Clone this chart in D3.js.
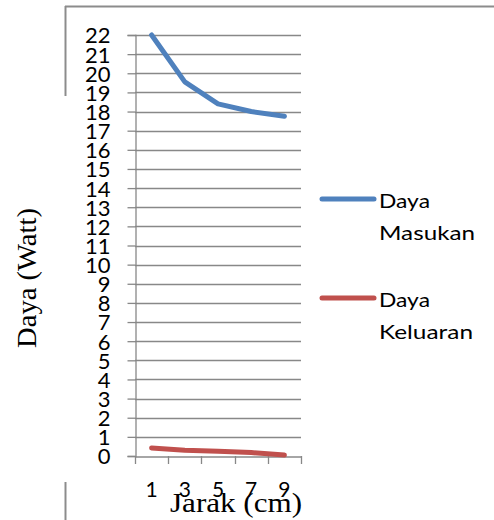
<!DOCTYPE html>
<html>
<head>
<meta charset="utf-8">
<script src="https://cdn.jsdelivr.net/npm/d3@7"></script>
<style>
  html, body { margin: 0; padding: 0; background: #fff; }
  svg { display: block; }
</style>
</head>
<body>
<svg id="chart" width="494" height="520"></svg>
<script>
const categories = ["1", "3", "5", "7", "9"];
const dayaMasukan = [22.0, 19.55, 18.4, 18.0, 17.75];
const dayaKeluaran = [0.42, 0.3, 0.25, 0.18, 0.05];
const yTicks = d3.range(0, 23);
const seriesNames = [["Daya", "Masukan"], ["Daya", "Keluaran"]];
const seriesColors = ["#4F81BD", "#C0504D"];

(function () {
const svg = d3.select("#chart");
const pLeft = 135, pRight = 301, pTop = 35, pBottom = 456;

// outer frame fragments
const frameColor = "#8c8c8c";
svg.append("line").attr("x1", 65).attr("x2", 494).attr("y1", 6.5).attr("y2", 6.5)
  .attr("stroke", frameColor).attr("stroke-width", 2);
svg.append("line").attr("x1", 65.5).attr("x2", 65.5).attr("y1", 6).attr("y2", 96)
  .attr("stroke", frameColor).attr("stroke-width", 2);
svg.append("line").attr("x1", 65.5).attr("x2", 65.5).attr("y1", 482).attr("y2", 520)
  .attr("stroke", frameColor).attr("stroke-width", 2);

const x = d3.scaleBand().domain(categories).range([pLeft, pRight]);
const y = d3.scaleLinear().domain([0, 22]).range([pBottom, pTop]);

// gridlines
svg.append("g").selectAll("line").data(yTicks.filter(d => d > 0)).join("line")
  .attr("x1", pLeft).attr("x2", pRight)
  .attr("y1", d => Math.round(y(d)) + 0.5).attr("y2", d => Math.round(y(d)) + 0.5)
  .attr("stroke", "#888").attr("stroke-width", 1.3);

// y axis
const yAxis = svg.append("g").attr("transform", `translate(${pLeft + 0.5},0)`)
  .call(d3.axisLeft(y).tickValues(yTicks).tickSize(8).tickPadding(17).tickFormat(d3.format("d")));
yAxis.select(".domain").attr("stroke", "#888").attr("stroke-width", 1.3);
yAxis.selectAll(".tick line").attr("stroke", "#888").attr("stroke-width", 1.3);
yAxis.selectAll("text").attr("font-family", "Lato, 'Open Sans', sans-serif")
  .attr("font-size", 22).attr("fill", "#000").attr("dy", "0.36em");

// x axis
const xAxis = svg.append("g").attr("transform", `translate(0,${pBottom + 0.5})`)
  .call(d3.axisBottom(x).tickSize(0).tickFormat(""));
xAxis.select(".domain").attr("stroke", "#888").attr("stroke-width", 1.3);
const bounds = categories.map(c => x(c)).concat([pRight]);
svg.append("g").selectAll("line").data(bounds).join("line")
  .attr("x1", d => Math.round(d) + 0.5).attr("x2", d => Math.round(d) + 0.5)
  .attr("y1", pBottom).attr("y2", pBottom + 8)
  .attr("stroke", "#888").attr("stroke-width", 1.3);
svg.append("g").selectAll("text").data(categories).join("text")
  .attr("x", d => x(d) + x.bandwidth() / 2).attr("y", 497)
  .attr("text-anchor", "middle")
  .attr("font-family", "Lato, 'Open Sans', sans-serif").attr("font-size", 21)
  .text(d => d);

// lines
const line = d3.line().x((d, i) => x(categories[i]) + x.bandwidth() / 2).y(d => y(d));
[dayaMasukan, dayaKeluaran].forEach((s, i) => {
  svg.append("path").datum(s).attr("d", line)
    .attr("fill", "none").attr("stroke", seriesColors[i]).attr("stroke-width", 5)
    .attr("stroke-linecap", "round").attr("stroke-linejoin", "round");
});

// axis titles
svg.append("text").attr("transform", "translate(36,278) rotate(-90)")
  .attr("text-anchor", "middle").attr("font-family", "'Liberation Serif', 'Times New Roman', serif")
  .attr("font-size", 27).attr("textLength", 140).attr("lengthAdjust", "spacingAndGlyphs")
  .text("Daya (Watt)");
svg.append("text").attr("x", 236).attr("y", 512)
  .attr("text-anchor", "middle").attr("font-family", "'Liberation Serif', 'Times New Roman', serif")
  .attr("font-size", 27).attr("textLength", 132).attr("lengthAdjust", "spacingAndGlyphs")
  .text("Jarak (cm)");

// legend
const legendY = [199, 298];
const legendLen = [[51, 96], [51, 94]];
seriesNames.forEach((n, i) => {
  const g = svg.append("g");
  g.append("line").attr("x1", 322).attr("x2", 374).attr("y1", legendY[i]).attr("y2", legendY[i])
    .attr("stroke", seriesColors[i]).attr("stroke-width", 5).attr("stroke-linecap", "round");
  g.append("text").attr("x", 379).attr("y", legendY[i] + 9)
    .attr("font-family", "Lato, 'Open Sans', sans-serif").attr("font-size", 19)
    .attr("textLength", legendLen[i][0]).attr("lengthAdjust", "spacingAndGlyphs").text(n[0]);
  g.append("text").attr("x", 379).attr("y", legendY[i] + 41)
    .attr("font-family", "Lato, 'Open Sans', sans-serif").attr("font-size", 19)
    .attr("textLength", legendLen[i][1]).attr("lengthAdjust", "spacingAndGlyphs").text(n[1]);
});
})();
</script>
</body>
</html>
